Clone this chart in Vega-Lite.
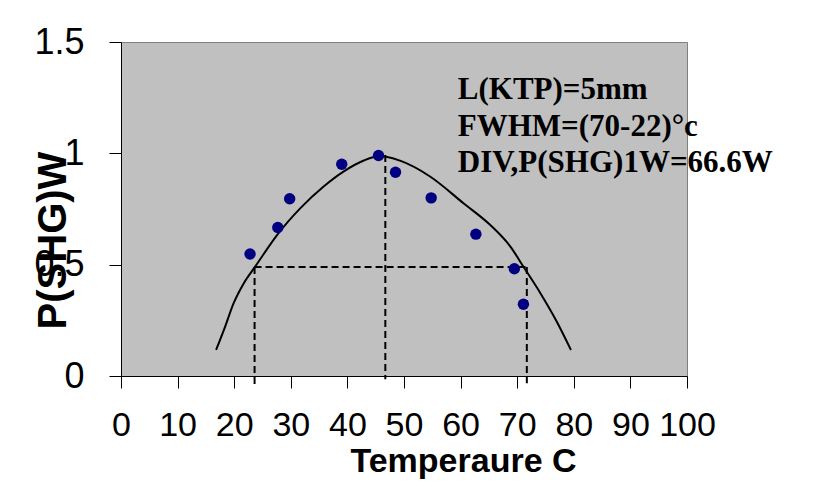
{
  "$schema": "https://vega.github.io/schema/vega-lite/v6.json",
  "width": 566,
  "height": 334,
  "autosize": {"type": "none"},
  "padding": {"left": 121, "top": 42, "right": 153, "bottom": 118},
  "background": "white",
  "config": {
    "view": {"fill": "#c0c0c0", "stroke": "#808080", "strokeWidth": 1}
  },
  "datasets": {
    "points": [
      {"T": 22.8, "P": 0.548},
      {"T": 27.7, "P": 0.667},
      {"T": 29.8, "P": 0.796},
      {"T": 39.0, "P": 0.951},
      {"T": 45.5, "P": 0.990},
      {"T": 48.5, "P": 0.915},
      {"T": 54.8, "P": 0.800},
      {"T": 62.7, "P": 0.637},
      {"T": 69.5, "P": 0.482},
      {"T": 71.1, "P": 0.322}
    ],
    "curve": [
      {"T": 16.8, "P": 0.117},
      {"T": 18.4, "P": 0.222},
      {"T": 19.9, "P": 0.327},
      {"T": 21.7, "P": 0.417},
      {"T": 23.7, "P": 0.491},
      {"T": 27.6, "P": 0.634},
      {"T": 31.7, "P": 0.754},
      {"T": 35.8, "P": 0.851},
      {"T": 39.3, "P": 0.918},
      {"T": 42.9, "P": 0.968},
      {"T": 45.8, "P": 0.988},
      {"T": 49.3, "P": 0.967},
      {"T": 54.6, "P": 0.896},
      {"T": 60.5, "P": 0.776},
      {"T": 65.2, "P": 0.679},
      {"T": 68.8, "P": 0.581},
      {"T": 71.1, "P": 0.491},
      {"T": 74.1, "P": 0.372},
      {"T": 77.0, "P": 0.244},
      {"T": 79.5, "P": 0.117}
    ],
    "guides": [
      {"T": 23.6, "T2": 71.7, "P": 0.49, "P2": 0.49},
      {"T": 23.6, "T2": 23.6, "P": 0.49, "P2": -0.04},
      {"T": 46.7, "T2": 46.7, "P": 0.993, "P2": -0.015},
      {"T": 71.7, "T2": 71.7, "P": 0.49, "P2": -0.033}
    ],
    "notes": [
      {"label": "L(KTP)=5mm", "T": 59.5, "P": 1.244},
      {"label": "FWHM=(70-22)°c", "T": 59.5, "P": 1.079},
      {"label": "DIV,P(SHG)1W=66.6W", "T": 59.5, "P": 0.918}
    ]
  },
  "encoding": {
    "x": {
      "field": "T",
      "type": "quantitative",
      "scale": {"domain": [0, 100], "nice": false, "zero": false},
      "axis": {
        "values": [0, 10, 20, 30, 40, 50, 60, 70, 80, 90, 100],
        "title": "Temperaure C",
        "grid": false,
        "domainColor": "black",
        "domainWidth": 1,
        "tickColor": "black",
        "tickSize": 12,
        "labelFont": "Liberation Sans",
        "labelFontSize": 34,
        "labelColor": "black",
        "labelBaseline": "alphabetic",
        "labelPadding": 47,
        "labelFlush": false,
        "labelOverlap": false,
        "titleFont": "Liberation Sans",
        "titleFontSize": 34,
        "titleFontWeight": "bold",
        "titleColor": "black",
        "titleAnchor": null,
        "titleAlign": "center",
        "titleBaseline": "alphabetic",
        "titleX": 342,
        "titleY": 95
      }
    },
    "y": {
      "field": "P",
      "type": "quantitative",
      "scale": {"domain": [0, 1.5], "nice": false, "zero": false},
      "axis": {
        "values": [0, 0.5, 1, 1.5],
        "format": "~g",
        "title": "P(SHG)W",
        "grid": false,
        "domainColor": "black",
        "domainWidth": 1,
        "tickColor": "black",
        "tickSize": 12,
        "labelFont": "Liberation Sans",
        "labelFontSize": 36,
        "labelColor": "black",
        "labelPadding": 25,
        "labelFlush": false,
        "labelOverlap": false,
        "titleFont": "Liberation Sans",
        "titleFontSize": 40,
        "titleFontWeight": "bold",
        "titleColor": "black",
        "titleAnchor": null,
        "titleAngle": 270,
        "titleAlign": "center",
        "titleBaseline": "alphabetic",
        "titleX": -56,
        "titleY": 198
      }
    }
  },
  "layer": [
    {
      "data": {"name": "guides"},
      "mark": {"type": "rule", "color": "black", "strokeWidth": 2, "strokeDash": [7, 4]},
      "encoding": {
        "x2": {"field": "T2"},
        "y2": {"field": "P2"}
      }
    },
    {
      "data": {"name": "curve"},
      "mark": {"type": "line", "color": "black", "strokeWidth": 2, "interpolate": "monotone"},
      "encoding": {}
    },
    {
      "data": {"name": "points"},
      "mark": {"type": "point", "filled": true, "color": "#000080", "opacity": 1, "size": 130, "shape": "circle"},
      "encoding": {}
    },
    {
      "data": {"name": "notes"},
      "mark": {"type": "text", "font": "Liberation Serif", "fontWeight": "bold", "fontSize": 31, "align": "left", "baseline": "alphabetic", "color": "black"},
      "encoding": {
        "text": {"field": "label"}
      }
    }
  ]
}
